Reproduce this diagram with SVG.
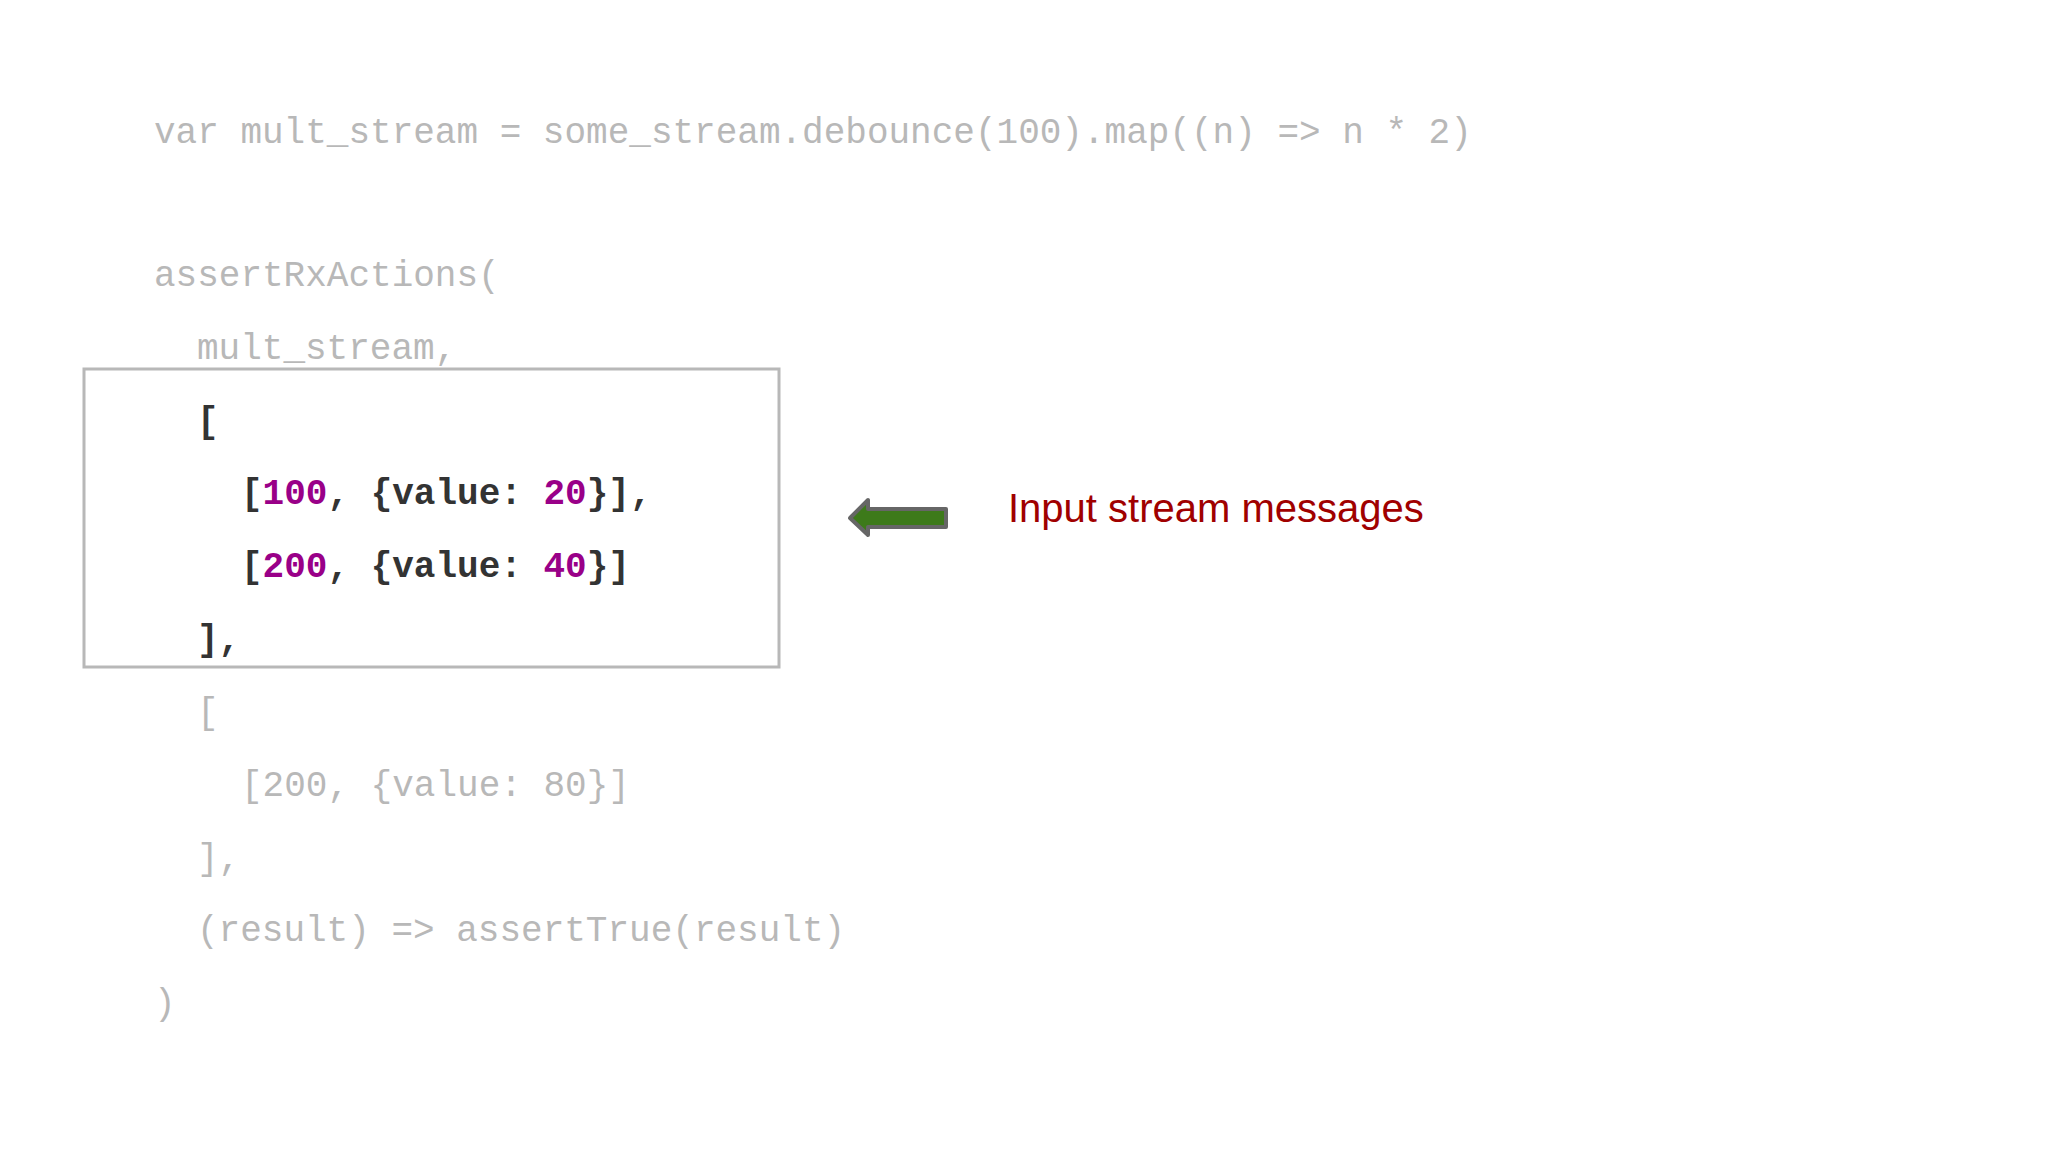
<svg xmlns="http://www.w3.org/2000/svg" width="2048" height="1152" viewBox="0 0 2048 1152">
<style>
.c{font-family:"Liberation Mono","DejaVu Sans Mono",monospace;font-size:36px;fill:#b8b8b8}
.d{fill:#333;font-weight:bold}
.n{fill:#990088;font-weight:bold}
.l{font-family:"Liberation Sans",Arial,sans-serif;font-size:40px;fill:#a00000}
</style>
<rect width="2048" height="1152" fill="#fff"/>
<g id="code">
<text class="c" x="154" y="143">var mult_stream = some_stream.debounce(100).map((n) =&gt; n * 2)</text>
<text class="c" x="154" y="286">assertRxActions(</text>
<text class="c" x="197" y="359">mult_stream,</text>
<text class="c" x="197" y="432"><tspan class="d">[</tspan></text>
<text class="c" x="241" y="504"><tspan class="d">[</tspan><tspan class="n">100</tspan><tspan class="d">, {value: </tspan><tspan class="n">20</tspan><tspan class="d">}],</tspan></text>
<text class="c" x="241" y="577"><tspan class="d">[</tspan><tspan class="n">200</tspan><tspan class="d">, {value: </tspan><tspan class="n">40</tspan><tspan class="d">}]</tspan></text>
<text class="c" x="197" y="650"><tspan class="d">],</tspan></text>
<text class="c" x="197" y="723">[</text>
<text class="c" x="241" y="796">[200, {value: 80}]</text>
<text class="c" x="197" y="869">],</text>
<text class="c" x="197" y="941">(result) =&gt; assertTrue(result)</text>
<text class="c" x="154" y="1014">)</text>
</g>
<g id="box"><rect x="84" y="369" width="695" height="298" fill="none" stroke="#b8b8b8" stroke-width="3"/></g>
<g id="connectors">
<polygon points="850,518 868,500 868,509 946,509 946,527 868,527 868,535" fill="#3d7a1a" stroke="#666" stroke-width="4" stroke-linejoin="round"/>
</g>
<g id="label"><text class="l" x="1008" y="522">Input stream messages</text></g>
</svg>
